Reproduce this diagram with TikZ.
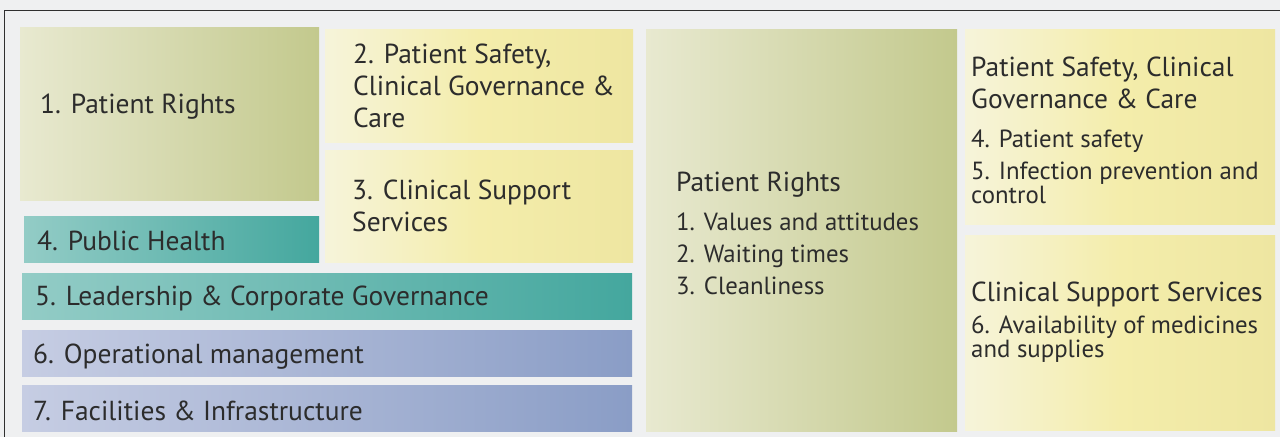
\documentclass[tikz,border=0pt]{standalone}
\usepackage{fontspec}
\setmainfont{PT Sans}
\usetikzlibrary{positioning}

\definecolor{pagegray}{HTML}{EFF0F1}
\definecolor{framegray}{HTML}{2F2F2F}
\definecolor{inkgray}{HTML}{2C2C2C}
\definecolor{oliveL}{HTML}{E8E9D0}
\definecolor{oliveR}{HTML}{C3C98D}
\definecolor{sandL}{HTML}{F6F4DA}
\definecolor{sandM}{HTML}{F4EDAB}
\definecolor{sandR}{HTML}{EEE6A1}
\definecolor{tealL}{HTML}{93CCC6}
\definecolor{tealR}{HTML}{44A79E}
\definecolor{slateL}{HTML}{C6CDE3}
\definecolor{slateR}{HTML}{8A9DC6}

\newcommand{\itemsize}{\fontsize{24.8}{32}\selectfont}

\tikzset{
  tile/.style={anchor=north west, inner sep=0pt, outer sep=0pt},
  olivetile/.style={tile, left color=oliveL, right color=oliveR},
  sandtile/.style={tile, left color=sandL, right color=sandR, middle color=sandM},
  tealtile/.style={tile, left color=tealL, right color=tealR},
  slatetile/.style={tile, left color=slateL, right color=slateR},
  caption/.style={anchor=west, align=left, inner sep=0pt, text=inkgray,
    font=\fontsize{27.5}{32}\selectfont},
}

\begin{document}
\begin{tikzpicture}[x=1pt, y=-1pt]
    \useasboundingbox (0,0) rectangle (1280,437);
    \fill[pagegray] (0,0) rectangle (1280,437);
    \draw[framegray, line width=1.5pt] (1280,10.5) -- (4.5,10.5) -- (4.5,437);

    % left block
    \node[olivetile, minimum width=299pt, minimum height=173pt] at (20,27)  (rights)    {};
    \node[sandtile,  minimum width=308pt, minimum height=113pt] at (325,29) (safety)    {};
    \node[sandtile,  minimum width=308pt, minimum height=112pt] at (325,150) (support)  {};
    \node[tealtile,  minimum width=295pt, minimum height=46pt]  at (24,216) (public)    {};
    \node[tealtile,  minimum width=610pt, minimum height=46pt]  at (22,273) (leader)    {};
    \node[slatetile, minimum width=610pt, minimum height=46pt]  at (22,330) (operation) {};
    \node[slatetile, minimum width=610pt, minimum height=46pt]  at (22,385) (facility)  {};

    \node[caption, right=20pt of rights.west, yshift=7pt]     (rightsT)    {1. Patient Rights};
    \node[caption, right=28pt of safety.west]                 (safetyT)    {2. Patient Safety,\\Clinical Governance \&\\Care};
    \node[caption, right=27pt of support.west]                (supportT)   {3. Clinical Support\\Services};
    \node[caption, right=13pt of public.west, yshift=-2pt]    (publicT)    {4. Public Health};
    \node[caption, right=13pt of leader.west, yshift=-2pt]    (leaderT)    {5. Leadership \& Corporate Governance};
    \node[caption, right=11pt of operation.west, yshift=-4pt] (operationT) {6. Operational management};
    \node[caption, right=11pt of facility.west, yshift=-3pt]  (facilityT)  {7. Facilities \& Infrastructure};

    % right block
    \node[olivetile, minimum width=311pt, minimum height=402pt] at (646,29)  (rightsB)  {};
    \node[sandtile,  minimum width=310pt, minimum height=195pt] at (965,29)  (safetyB)  {};
    \node[sandtile,  minimum width=310pt, minimum height=195pt] at (965,235) (supportB) {};

    \node[caption, right=30pt of rightsB.west, yshift=-3.5pt] (rightsBT)
        {Patient Rights\\[7pt]
         {\itemsize 1. Values and attitudes}\\{\itemsize 2. Waiting times}\\{\itemsize 3. Cleanliness}};
    \node[caption, right=6pt of safetyB.west, yshift=-3.5pt] (safetyBT)
        {Patient Safety, Clinical\\Governance \& Care\\[7pt]
         {\itemsize 4. Patient safety}\\{\itemsize 5. Infection prevention and}\\[-8pt]{\itemsize control}};
    \node[caption, right=6pt of supportB.west, yshift=10pt] (supportBT)
        {Clinical Support Services\\
         {\itemsize 6. Availability of medicines}\\[-8pt]{\itemsize and supplies}};
\end{tikzpicture}
\end{document}
